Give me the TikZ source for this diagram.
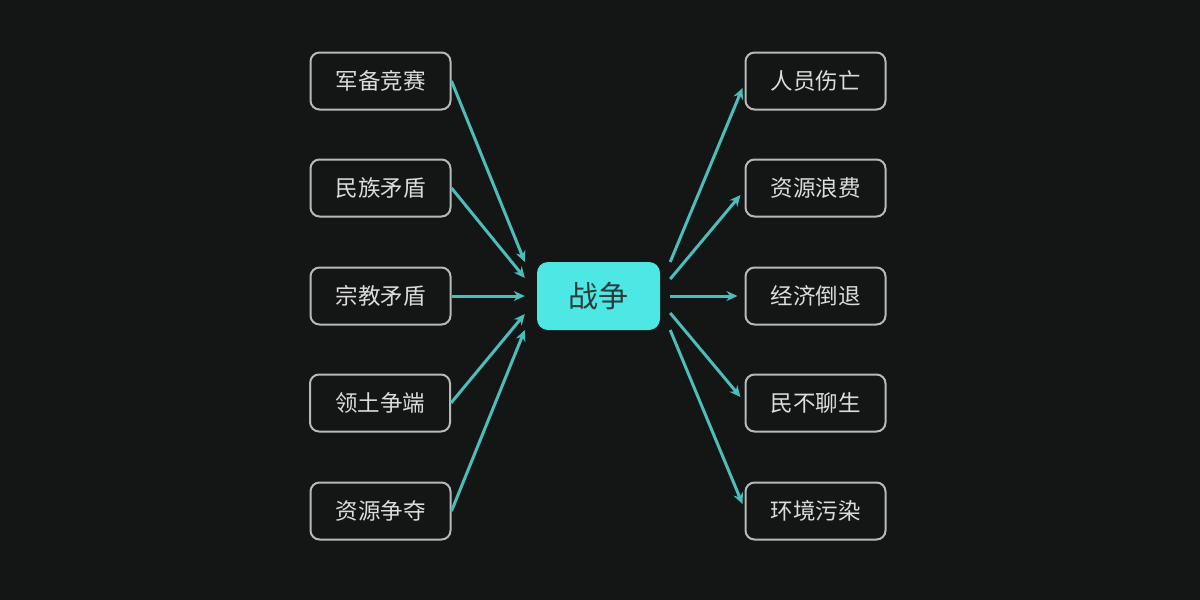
\documentclass[tikz,border=0pt]{standalone}
\usepackage{fontspec}
\setmainfont{Noto Sans CJK SC}
\usetikzlibrary{calc,arrows.meta}
\definecolor{bg}{HTML}{141515}
\definecolor{boxline}{HTML}{B5BAB8}
\definecolor{boxtext}{HTML}{DCDCDC}
\definecolor{arrowc}{HTML}{4DBDBB}
\definecolor{centerfill}{HTML}{4DE8E4}
\definecolor{centertext}{HTML}{2E3B3B}
\tikzset{
  leaf/.style={draw=boxline, line width=2pt, rounded corners=9pt, minimum width=140pt, minimum height=57pt, inner sep=0pt, text=boxtext, font=\fontsize{22.5pt}{26pt}\selectfont},
  hub/.style={fill=centerfill, rounded corners=11pt, minimum width=123pt, minimum height=68pt, inner sep=0pt, text=centertext, font=\fontsize{30pt}{34pt}\selectfont},
  arr/.style={draw=arrowc, line width=3pt, -{Stealth[length=11pt,width=10pt]}},
}
\begin{document}
\begin{tikzpicture}[x=1pt,y=-1pt]
\fill[bg] (0,0) rectangle (1200,600);
\useasboundingbox (0,0) rectangle (1200,600);
\node[hub] (c) at (598.5,296) {战争};
\node[leaf] (l1) at (380.5,81) {军备竞赛};
\node[leaf] (l2) at (380.5,188) {民族矛盾};
\node[leaf] (l3) at (380.5,296) {宗教矛盾};
\node[leaf] (l4) at (380,403) {领土争端};
\node[leaf] (l5) at (380.5,511) {资源争夺};
\node[leaf] (r1) at (815.5,81) {人员伤亡};
\node[leaf] (r2) at (815.5,188) {资源浪费};
\node[leaf] (r3) at (815.5,296) {经济倒退};
\node[leaf] (r4) at (815.5,403) {民不聊生};
\node[leaf] (r5) at (815.5,511) {环境污染};
% left arrow ends
\coordinate (li1) at ($(c.west)+(-12,-34)$);
\coordinate (li2) at ($(c.west)+(-12,-18)$);
\coordinate (li3) at ($(c.west)+(-12,0)$);
\coordinate (li4) at ($(c.west)+(-12,18)$);
\coordinate (li5) at ($(c.west)+(-12,34)$);
\draw[arr] (l1.east) -- (li1);
\draw[arr] (l2.east) -- (li2);
\draw[arr] (l3.east) -- (li3);
\draw[arr] (l4.east) -- (li4);
\draw[arr] (l5.east) -- (li5);
% right arrows
\coordinate (ro1) at ($(c.east)+(10,-34)$);
\coordinate (ro2) at ($(c.east)+(10,-17)$);
\coordinate (ro3) at ($(c.east)+(10,0)$);
\coordinate (ro4) at ($(c.east)+(10,17)$);
\coordinate (ro5) at ($(c.east)+(10,34)$);
\draw[arr] (ro1) -- ($(r1.west)+(-2,7)$);
\draw[arr] (ro2) -- ($(r2.west)+(-4,7)$);
\draw[arr] (ro3) -- ($(r3.west)+(-7,0)$);
\draw[arr] (ro4) -- ($(r4.west)+(-4,-6)$);
\draw[arr] (ro5) -- ($(r5.west)+(-2,-7)$);
\end{tikzpicture}
\end{document}
